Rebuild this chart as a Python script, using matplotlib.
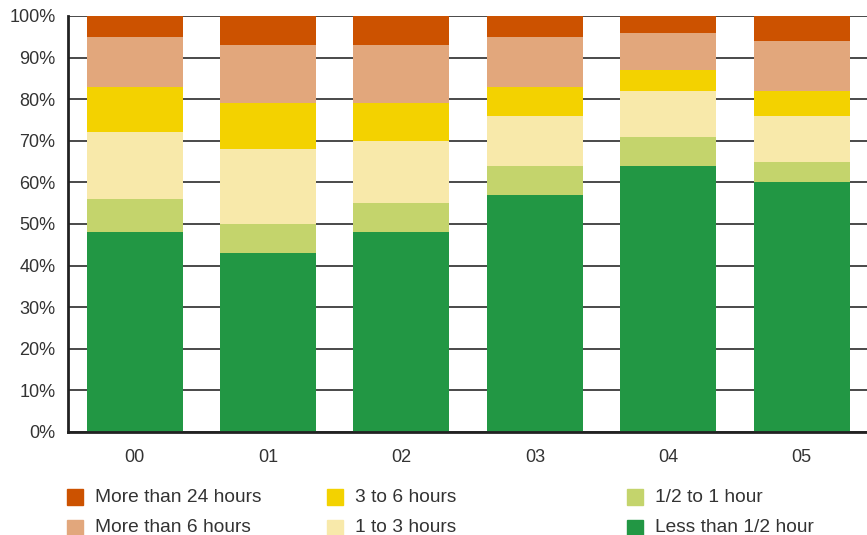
import matplotlib.pyplot as plt
from matplotlib.patches import Rectangle
import numpy as np

plt.rcParams['font.family'] = ['Liberation Sans', 'DejaVu Sans']

years = ['00', '01', '02', '03', '04', '05']
# shares in percent, bottom to top
less_half = [48, 43, 48, 57, 64, 60]
half_to_1 = [8, 7, 7, 7, 7, 5]
one_to_3 = [16, 18, 15, 12, 11, 11]
three_to_6 = [11, 11, 9, 7, 5, 6]
more_6 = [12, 14, 14, 12, 9, 12]
more_24 = [5, 7, 7, 5, 4, 6]

labels = ['Less than 1/2 hour', '1/2 to 1 hour', '1 to 3 hours',
          '3 to 6 hours', 'More than 6 hours', 'More than 24 hours']
colors = ['#229744', '#C4D46C', '#F8E9AA', '#F3D200', '#E2A77C', '#CC5200']
series = [less_half, half_to_1, one_to_3, three_to_6, more_6, more_24]

fig = plt.figure(figsize=(8.67, 5.35), dpi=100)
ax = fig.add_axes([68 / 867, 1 - 432 / 535, 1 - 68 / 867, 416 / 535])

x = np.arange(len(years))
bottom = np.zeros(len(years))
for vals, col in zip(series, colors):
    ax.bar(x, vals, width=0.72, bottom=bottom, color=col, zorder=2)
    bottom += np.array(vals)

ax.set_ylim(0, 100)
ax.set_xlim(-0.5, 5.49)
ax.set_yticks(range(0, 101, 10))
ax.set_yticklabels([f'{v}%' for v in range(0, 101, 10)])
ax.set_xticks(x)
ax.set_xticklabels(years)
ax.yaxis.grid(True, color='#3a3a3a', linewidth=1.3, zorder=0)
ax.tick_params(length=0, labelsize=13, colors='#333333', pad=9)
ax.tick_params(axis='x', pad=12)
for s in ['top', 'right']:
    ax.spines[s].set_visible(False)
for s in ['left', 'bottom']:
    ax.spines[s].set_color('#222222')
    ax.spines[s].set_linewidth(2)

# legend laid out in three columns
legend_items = [(labels[5], colors[5]), (labels[4], colors[4]),
                (labels[3], colors[3]), (labels[2], colors[2]),
                (labels[1], colors[1]), (labels[0], colors[0])]
col_x = [67, 327, 627]
row_y = [497, 528]
for i, (lab, col) in enumerate(legend_items):
    cx = col_x[i // 2]
    cy = row_y[i % 2]
    fig.patches.append(Rectangle((cx / 867, 1 - (cy + 8) / 535), 16 / 867, 16 / 535,
                                 transform=fig.transFigure, color=col))
    fig.text((cx + 28) / 867, 1 - cy / 535, lab, fontsize=13.8, color='#333333',
             va='center', ha='left')

fig.savefig('out.png', dpi=100)
